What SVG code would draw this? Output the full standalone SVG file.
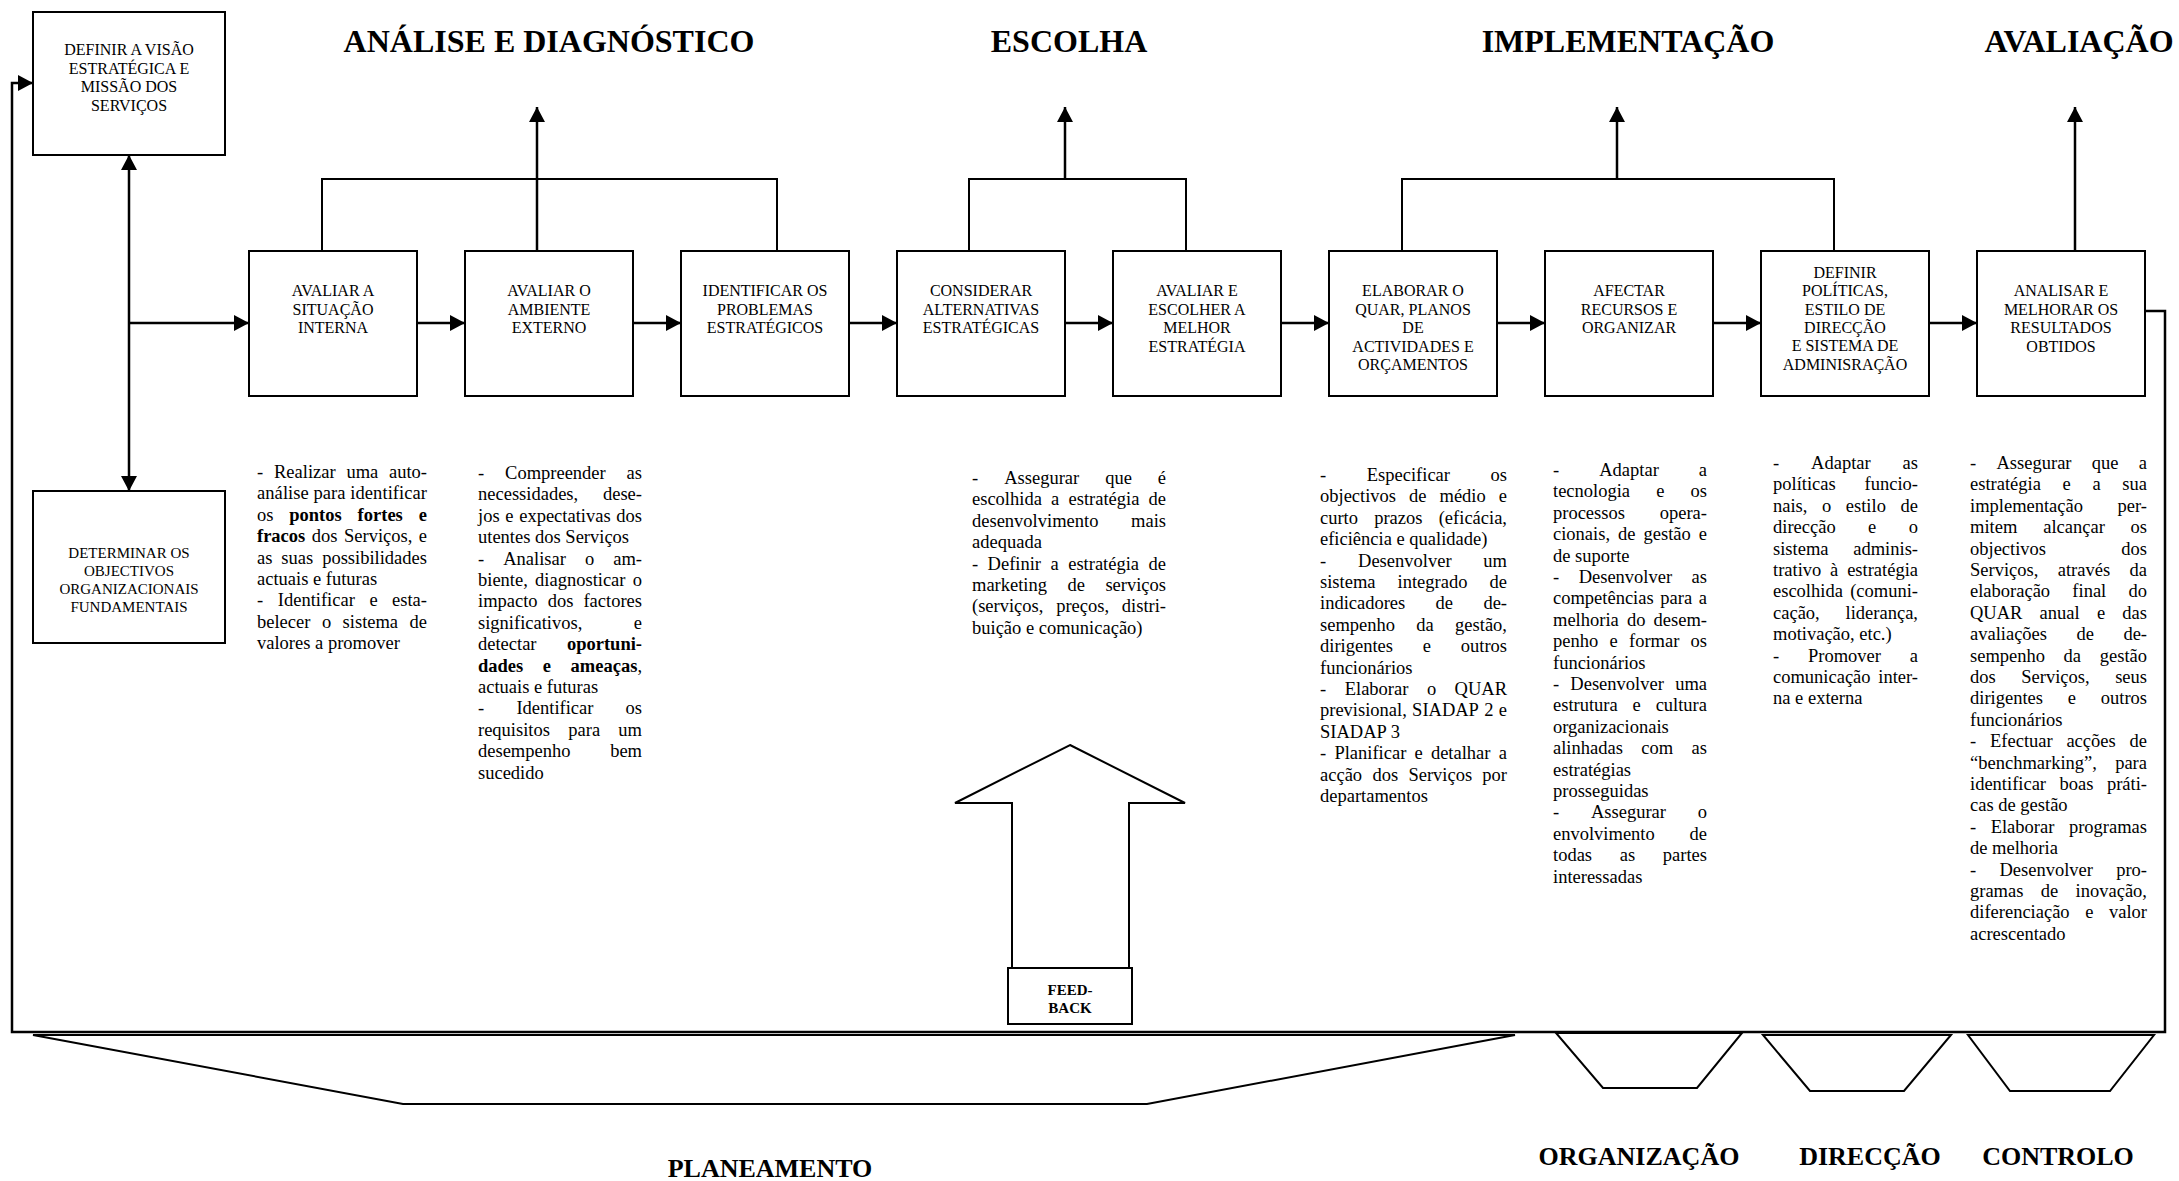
<svg xmlns="http://www.w3.org/2000/svg" width="2179" height="1181" viewBox="0 0 2179 1181">
<style>
.bg{fill:#fff}
.bx{fill:#fff;stroke:#000;stroke-width:2}
.ln{fill:none;stroke:#000;stroke-width:2}
.ar{fill:none;stroke:#000;stroke-width:2.5}
.sh{fill:#fff;stroke:#000;stroke-width:2;stroke-linejoin:miter}
.bt{font-family:"Liberation Serif","Times New Roman",serif;font-size:16px;text-anchor:middle;fill:#000}
.bs{font-size:15px}
.h{font-family:"Liberation Serif","Times New Roman",serif;font-size:32px;font-weight:bold;text-anchor:middle;fill:#000}
.f{font-family:"Liberation Serif","Times New Roman",serif;font-size:26px;font-weight:bold;text-anchor:middle;fill:#000}
.fb{font-family:"Liberation Serif","Times New Roman",serif;font-size:15px;font-weight:bold;text-anchor:middle;fill:#000}
.d{font-family:"Liberation Serif","Times New Roman",serif;font-size:18.5px;fill:#000}
.e{text-anchor:end}
.m{text-anchor:middle}
.b{font-weight:bold}
</style>
<defs>
<marker id="ah" markerUnits="userSpaceOnUse" markerWidth="16" markerHeight="17" refX="15" refY="8" orient="auto-start-reverse"><path d="M0,0 L15,8 L0,16 z" fill="#000"/></marker>
</defs>
<rect class="bg" x="0" y="0" width="2179" height="1181"/>

<g id="titles">
<text class="h" x="549" y="52">ANÁLISE E DIAGNÓSTICO</text>
<text class="h" x="1069" y="52">ESCOLHA</text>
<text class="h" x="1628" y="52">IMPLEMENTAÇÃO</text>
<text class="h" x="2079" y="52">AVALIAÇÃO</text>
</g>

<g id="connectors">
<path class="ar" d="M2146,311 H2165 V1032 H12 V83 H33" marker-end="url(#ah)"/>
<path class="ar" d="M129,491 V155" marker-start="url(#ah)" marker-end="url(#ah)"/>
<path class="ar" d="M129,323 H249" marker-end="url(#ah)"/>
<path class="ar" d="M417,323 H465" marker-end="url(#ah)"/>
<path class="ar" d="M633,323 H681" marker-end="url(#ah)"/>
<path class="ar" d="M849,323 H897" marker-end="url(#ah)"/>
<path class="ar" d="M1065,323 H1113" marker-end="url(#ah)"/>
<path class="ar" d="M1281,323 H1329" marker-end="url(#ah)"/>
<path class="ar" d="M1497,323 H1545" marker-end="url(#ah)"/>
<path class="ar" d="M1713,323 H1761" marker-end="url(#ah)"/>
<path class="ar" d="M1929,323 H1977" marker-end="url(#ah)"/>
<path class="ln" d="M322,251 V179 H777 V251"/>
<path class="ar" d="M537,251 V107" marker-end="url(#ah)"/>
<path class="ln" d="M969,251 V179 H1186 V251"/>
<path class="ar" d="M1065,179 V107" marker-end="url(#ah)"/>
<path class="ln" d="M1402,251 V179 H1834 V251"/>
<path class="ar" d="M1617,179 V107" marker-end="url(#ah)"/>
<path class="ar" d="M2075,251 V107" marker-end="url(#ah)"/>
</g>

<g id="n-visao">
<rect class="bx" x="33" y="12" width="192" height="143"/>
<text class="bt" x="129" y="55">DEFINIR A VISÃO</text>
<text class="bt" x="129" y="73.5">ESTRATÉGICA E</text>
<text class="bt" x="129" y="92">MISSÃO DOS</text>
<text class="bt" x="129" y="110.5">SERVIÇOS</text>
</g>
<g id="n-objectivos">
<rect class="bx" x="33" y="491" width="192" height="152"/>
<text class="bt bs" x="129" y="558">DETERMINAR OS</text>
<text class="bt bs" x="129" y="576">OBJECTIVOS</text>
<text class="bt bs" x="129" y="594">ORGANIZACIONAIS</text>
<text class="bt bs" x="129" y="612">FUNDAMENTAIS</text>
</g>
<g id="n1">
<rect class="bx" x="249" y="251" width="168" height="145"/>
<text class="bt" x="333" y="296">AVALIAR A</text>
<text class="bt" x="333" y="314.5">SITUAÇÃO</text>
<text class="bt" x="333" y="333">INTERNA</text>
</g>
<g id="n2">
<rect class="bx" x="465" y="251" width="168" height="145"/>
<text class="bt" x="549" y="296">AVALIAR O</text>
<text class="bt" x="549" y="314.5">AMBIENTE</text>
<text class="bt" x="549" y="333">EXTERNO</text>
</g>
<g id="n3">
<rect class="bx" x="681" y="251" width="168" height="145"/>
<text class="bt" x="765" y="296">IDENTIFICAR OS</text>
<text class="bt" x="765" y="314.5">PROBLEMAS</text>
<text class="bt" x="765" y="333">ESTRATÉGICOS</text>
</g>
<g id="n4">
<rect class="bx" x="897" y="251" width="168" height="145"/>
<text class="bt" x="981" y="296">CONSIDERAR</text>
<text class="bt" x="981" y="314.5">ALTERNATIVAS</text>
<text class="bt" x="981" y="333">ESTRATÉGICAS</text>
</g>
<g id="n5">
<rect class="bx" x="1113" y="251" width="168" height="145"/>
<text class="bt" x="1197" y="296">AVALIAR E</text>
<text class="bt" x="1197" y="314.5">ESCOLHER A</text>
<text class="bt" x="1197" y="333">MELHOR</text>
<text class="bt" x="1197" y="351.5">ESTRATÉGIA</text>
</g>
<g id="n6">
<rect class="bx" x="1329" y="251" width="168" height="145"/>
<text class="bt" x="1413" y="296">ELABORAR O</text>
<text class="bt" x="1413" y="314.5">QUAR, PLANOS</text>
<text class="bt" x="1413" y="333">DE</text>
<text class="bt" x="1413" y="351.5">ACTIVIDADES E</text>
<text class="bt" x="1413" y="370">ORÇAMENTOS</text>
</g>
<g id="n7">
<rect class="bx" x="1545" y="251" width="168" height="145"/>
<text class="bt" x="1629" y="296">AFECTAR</text>
<text class="bt" x="1629" y="314.5">RECURSOS E</text>
<text class="bt" x="1629" y="333">ORGANIZAR</text>
</g>
<g id="n8">
<rect class="bx" x="1761" y="251" width="168" height="145"/>
<text class="bt" x="1845" y="278">DEFINIR</text>
<text class="bt" x="1845" y="296.3">POLÍTICAS,</text>
<text class="bt" x="1845" y="314.6">ESTILO DE</text>
<text class="bt" x="1845" y="332.9">DIRECÇÃO</text>
<text class="bt" x="1845" y="351.2">E SISTEMA DE</text>
<text class="bt" x="1845" y="369.5">ADMINISRAÇÃO</text>
</g>
<g id="n9">
<rect class="bx" x="1977" y="251" width="168" height="145"/>
<text class="bt" x="2061" y="296">ANALISAR E</text>
<text class="bt" x="2061" y="314.5">MELHORAR OS</text>
<text class="bt" x="2061" y="333">RESULTADOS</text>
<text class="bt" x="2061" y="351.5">OBTIDOS</text>
</g>

<g id="desc1" class="d">
<text y="478"><tspan x="257">-</tspan><tspan x="274">Realizar</tspan><tspan x="346.4">uma</tspan></text><text class="e" x="427" y="478">auto-</text>
<text x="257" y="499.4" textLength="170" lengthAdjust="spacing">análise para identificar</text>
<text y="520.8"><tspan x="257">os</tspan><tspan class="b" x="289.3">pontos</tspan><tspan class="b" x="357.6">fortes</tspan></text><text class="e b" x="427" y="520.8">e</text>
<text y="542.2"><tspan class="b" x="257">fracos</tspan><tspan x="311.8">dos</tspan><tspan x="344">Serviços,</tspan></text><text class="e" x="427" y="542.2">e</text>
<text x="257" y="563.6">as</text><text class="m" x="297.3" y="563.6">suas</text><text class="e" x="427" y="563.6">possibilidades</text>
<text x="257" y="585">actuais e futuras</text>
<text y="606.4"><tspan x="257">-</tspan><tspan x="277.8">Identificar</tspan><tspan x="369.4">e</tspan></text><text class="e" x="427" y="606.4">esta-</text>
<text y="627.8"><tspan x="257">belecer</tspan><tspan x="321.9">o</tspan><tspan x="342.6">sistema</tspan></text><text class="e" x="427" y="627.8">de</text>
<text x="257" y="649.2">valores a promover</text>
</g>

<g id="desc2" class="d">
<text x="478" y="479">-</text><text class="m" x="555.4" y="479">Compreender</text><text class="e" x="642" y="479">as</text>
<text x="478" y="500.4">necessidades,</text><text class="e" x="642" y="500.4">dese-</text>
<text y="521.8"><tspan x="478">jos</tspan><tspan x="505.3">e</tspan><tspan x="519.2">expectativas</tspan></text><text class="e" x="642" y="521.8">dos</text>
<text x="478" y="543.2">utentes dos Serviços</text>
<text y="564.6"><tspan x="478">-</tspan><tspan x="503.2">Analisar</tspan><tspan x="584.9">o</tspan></text><text class="e" x="642" y="564.6">am-</text>
<text x="478" y="586">biente,</text><text class="m" x="580.3" y="586">diagnosticar</text><text class="e" x="642" y="586">o</text>
<text x="478" y="607.4">impacto</text><text class="m" x="560.5" y="607.4">dos</text><text class="e" x="642" y="607.4">factores</text>
<text x="478" y="628.8">significativos,</text><text class="e" x="642" y="628.8">e</text>
<text x="478" y="650.2">detectar</text><text class="e b" x="642" y="650.2">oportuni-</text>
<text class="b" x="478" y="671.6">dades</text><text class="m b" x="546.9" y="671.6">e</text><text class="e" x="642" y="671.6"><tspan class="b">ameaças</tspan>,</text>
<text x="478" y="693">actuais e futuras</text>
<text x="478" y="714.4">-</text><text class="m" x="554.9" y="714.4">Identificar</text><text class="e" x="642" y="714.4">os</text>
<text x="478" y="735.8">requisitos</text><text class="m" x="584.2" y="735.8">para</text><text class="e" x="642" y="735.8">um</text>
<text x="478" y="757.2">desempenho</text><text class="e" x="642" y="757.2">bem</text>
<text x="478" y="778.6">sucedido</text>
</g>

<g id="desc3" class="d">
<text y="484"><tspan x="972">-</tspan><tspan x="1004.2">Assegurar</tspan><tspan x="1105.2">que</tspan></text><text class="e" x="1166" y="484">é</text>
<text y="505.4"><tspan x="972">escolhida</tspan><tspan x="1051.1">a</tspan><tspan x="1068.5">estratégia</tspan></text><text class="e" x="1166" y="505.4">de</text>
<text x="972" y="526.8">desenvolvimento</text><text class="e" x="1166" y="526.8">mais</text>
<text x="972" y="548.2">adequada</text>
<text y="569.6"><tspan x="972">-</tspan><tspan x="987.6">Definir</tspan><tspan x="1050.5">a</tspan><tspan x="1068.2">estratégia</tspan></text><text class="e" x="1166" y="569.6">de</text>
<text x="972" y="591">marketing</text><text class="m" x="1076.2" y="591">de</text><text class="e" x="1166" y="591">serviços</text>
<text x="972" y="612.4">(serviços,</text><text class="m" x="1082.6" y="612.4">preços,</text><text class="e" x="1166" y="612.4">distri-</text>
<text x="972" y="633.8">buição e comunicação)</text>
</g>

<g id="desc4" class="d">
<text x="1320" y="481">-</text><text class="m" x="1408.4" y="481">Especificar</text><text class="e" x="1507" y="481">os</text>
<text y="502.4"><tspan x="1320">objectivos</tspan><tspan x="1409">de</tspan><tspan x="1439.5">médio</tspan></text><text class="e" x="1507" y="502.4">e</text>
<text x="1320" y="523.8">curto</text><text class="m" x="1398.3" y="523.8">prazos</text><text class="e" x="1507" y="523.8">(eficácia,</text>
<text x="1320" y="545.2">eficiência e qualidade)</text>
<text x="1320" y="566.6">-</text><text class="m" x="1404.8" y="566.6">Desenvolver</text><text class="e" x="1507" y="566.6">um</text>
<text x="1320" y="588">sistema</text><text class="m" x="1432.5" y="588">integrado</text><text class="e" x="1507" y="588">de</text>
<text x="1320" y="609.4">indicadores</text><text class="m" x="1444.3" y="609.4">de</text><text class="e" x="1507" y="609.4">de-</text>
<text x="1320" y="630.8">sempenho</text><text class="m" x="1425" y="630.8">da</text><text class="e" x="1507" y="630.8">gestão,</text>
<text x="1320" y="652.2">dirigentes</text><text class="m" x="1426.9" y="652.2">e</text><text class="e" x="1507" y="652.2">outros</text>
<text x="1320" y="673.6">funcionários</text>
<text y="695"><tspan x="1320">-</tspan><tspan x="1344.7">Elaborar</tspan><tspan x="1426.9">o</tspan></text><text class="e" x="1507" y="695">QUAR</text>
<text y="716.4"><tspan x="1320">previsional,</tspan><tspan x="1412.1">SIADAP</tspan><tspan x="1484.2">2</tspan></text><text class="e" x="1507" y="716.4">e</text>
<text x="1320" y="737.8">SIADAP 3</text>
<text y="759.2"><tspan x="1320">-</tspan><tspan x="1334.4">Planificar</tspan><tspan x="1414.5">e</tspan><tspan x="1430.9">detalhar</tspan></text><text class="e" x="1507" y="759.2">a</text>
<text y="780.6"><tspan x="1320">acção</tspan><tspan x="1372.4">dos</tspan><tspan x="1408.4">Serviços</tspan></text><text class="e" x="1507" y="780.6">por</text>
<text x="1320" y="802">departamentos</text>
</g>

<g id="desc5" class="d">
<text x="1553" y="476">-</text><text class="m" x="1629" y="476">Adaptar</text><text class="e" x="1707" y="476">a</text>
<text x="1553" y="497.4">tecnologia</text><text class="m" x="1660.3" y="497.4">e</text><text class="e" x="1707" y="497.4">os</text>
<text x="1553" y="518.8">processos</text><text class="e" x="1707" y="518.8">opera-</text>
<text y="540.2"><tspan x="1553">cionais,</tspan><tspan x="1618">de</tspan><tspan x="1643.5">gestão</tspan></text><text class="e" x="1707" y="540.2">e</text>
<text x="1553" y="561.6">de suporte</text>
<text x="1553" y="583">-</text><text class="m" x="1625.4" y="583">Desenvolver</text><text class="e" x="1707" y="583">as</text>
<text x="1553" y="604.4">competências</text><text class="m" x="1676.2" y="604.4">para</text><text class="e" x="1707" y="604.4">a</text>
<text x="1553" y="625.8">melhoria</text><text class="m" x="1636.2" y="625.8">do</text><text class="e" x="1707" y="625.8">desem-</text>
<text y="647.2"><tspan x="1553">penho</tspan><tspan x="1609.5">e</tspan><tspan x="1629">formar</tspan></text><text class="e" x="1707" y="647.2">os</text>
<text x="1553" y="668.6">funcionários</text>
<text x="1553" y="690">-</text><text class="m" x="1617.1" y="690">Desenvolver</text><text class="e" x="1707" y="690">uma</text>
<text x="1553" y="711.4">estrutura</text><text class="m" x="1636.6" y="711.4">e</text><text class="e" x="1707" y="711.4">cultura</text>
<text x="1553" y="732.8">organizacionais</text>
<text x="1553" y="754.2">alinhadas</text><text class="m" x="1657.2" y="754.2">com</text><text class="e" x="1707" y="754.2">as</text>
<text x="1553" y="775.6">estratégias</text>
<text x="1553" y="797">prosseguidas</text>
<text x="1553" y="818.4">-</text><text class="m" x="1628.5" y="818.4">Assegurar</text><text class="e" x="1707" y="818.4">o</text>
<text x="1553" y="839.8">envolvimento</text><text class="e" x="1707" y="839.8">de</text>
<text x="1553" y="861.2">todas</text><text class="m" x="1627.4" y="861.2">as</text><text class="e" x="1707" y="861.2">partes</text>
<text x="1553" y="882.6">interessadas</text>
</g>

<g id="desc6" class="d">
<text x="1773" y="469">-</text><text class="m" x="1840.9" y="469">Adaptar</text><text class="e" x="1918" y="469">as</text>
<text x="1773" y="490.4">políticas</text><text class="e" x="1918" y="490.4">funcio-</text>
<text y="511.8"><tspan x="1773">nais,</tspan><tspan x="1822">o</tspan><tspan x="1845.8">estilo</tspan></text><text class="e" x="1918" y="511.8">de</text>
<text x="1773" y="533.2">direcção</text><text class="m" x="1872.2" y="533.2">e</text><text class="e" x="1918" y="533.2">o</text>
<text x="1773" y="554.6">sistema</text><text class="e" x="1918" y="554.6">adminis-</text>
<text x="1773" y="576">trativo</text><text class="m" x="1834.2" y="576">à</text><text class="e" x="1918" y="576">estratégia</text>
<text x="1773" y="597.4">escolhida</text><text class="e" x="1918" y="597.4">(comuni-</text>
<text x="1773" y="618.8">cação,</text><text class="e" x="1918" y="618.8">liderança,</text>
<text x="1773" y="640.2">motivação, etc.)</text>
<text x="1773" y="661.6">-</text><text class="m" x="1844.5" y="661.6">Promover</text><text class="e" x="1918" y="661.6">a</text>
<text x="1773" y="683">comunicação</text><text class="e" x="1918" y="683">inter-</text>
<text x="1773" y="704.4">na e externa</text>
</g>

<g id="desc7" class="d">
<text y="469"><tspan x="1970">-</tspan><tspan x="1996.5">Assegurar</tspan><tspan x="2091.8">que</tspan></text><text class="e" x="2147" y="469">a</text>
<text y="490.4"><tspan x="1970">estratégia</tspan><tspan x="2062.6">e</tspan><tspan x="2092.4">a</tspan></text><text class="e" x="2147" y="490.4">sua</text>
<text x="1970" y="511.8">implementação</text><text class="e" x="2147" y="511.8">per-</text>
<text x="1970" y="533.2">mitem</text><text class="m" x="2074" y="533.2">alcançar</text><text class="e" x="2147" y="533.2">os</text>
<text x="1970" y="554.6">objectivos</text><text class="e" x="2147" y="554.6">dos</text>
<text x="1970" y="576">Serviços,</text><text class="m" x="2083.9" y="576">através</text><text class="e" x="2147" y="576">da</text>
<text x="1970" y="597.4">elaboração</text><text class="m" x="2089.3" y="597.4">final</text><text class="e" x="2147" y="597.4">do</text>
<text y="618.8"><tspan x="1970">QUAR</tspan><tspan x="2039.6">anual</tspan><tspan x="2096.9">e</tspan></text><text class="e" x="2147" y="618.8">das</text>
<text x="1970" y="640.2">avaliações</text><text class="m" x="2085.2" y="640.2">de</text><text class="e" x="2147" y="640.2">de-</text>
<text x="1970" y="661.6">sempenho</text><text class="m" x="2072.3" y="661.6">da</text><text class="e" x="2147" y="661.6">gestão</text>
<text x="1970" y="683">dos</text><text class="m" x="2055.4" y="683">Serviços,</text><text class="e" x="2147" y="683">seus</text>
<text x="1970" y="704.4">dirigentes</text><text class="m" x="2071.9" y="704.4">e</text><text class="e" x="2147" y="704.4">outros</text>
<text x="1970" y="725.8">funcionários</text>
<text y="747.2"><tspan x="1970">-</tspan><tspan x="1990">Efectuar</tspan><tspan x="2066.4">acções</tspan></text><text class="e" x="2147" y="747.2">de</text>
<text x="1970" y="768.6">“benchmarking”,</text><text class="e" x="2147" y="768.6">para</text>
<text x="1970" y="790">identificar</text><text class="m" x="2076.4" y="790">boas</text><text class="e" x="2147" y="790">práti-</text>
<text x="1970" y="811.4">cas de gestão</text>
<text x="1970" y="832.8">-</text><text class="m" x="2022.5" y="832.8">Elaborar</text><text class="e" x="2147" y="832.8">programas</text>
<text x="1970" y="854.2">de melhoria</text>
<text x="1970" y="875.6">-</text><text class="m" x="2046.2" y="875.6">Desenvolver</text><text class="e" x="2147" y="875.6">pro-</text>
<text x="1970" y="897">gramas</text><text class="m" x="2049.5" y="897">de</text><text class="e" x="2147" y="897">inovação,</text>
<text x="1970" y="918.4">diferenciação</text><text class="m" x="2089.3" y="918.4">e</text><text class="e" x="2147" y="918.4">valor</text>
<text x="1970" y="939.8">acrescentado</text>
</g>

<g id="feedback">
<polygon class="sh" points="1070,745 1185,803 1129,803 1129,968 1012,968 1012,803 955,803"/>
<rect class="bx" x="1008" y="968" width="124" height="56"/>
<text class="fb" x="1070" y="995">FEED-</text>
<text class="fb" x="1070" y="1013">BACK</text>
</g>

<g id="planeamento">
<polygon class="ln" points="33,1035 1515,1035 1147,1104 403,1104"/>
<text class="f" x="770" y="1177">PLANEAMENTO</text>
</g>
<g id="organizacao">
<polygon class="ln" points="1556,1033 1742,1033 1697,1088 1603,1088"/>
<text class="f" x="1639" y="1165">ORGANIZAÇÃO</text>
</g>
<g id="direccao">
<polygon class="ln" points="1763,1035 1951,1035 1904,1091 1810,1091"/>
<text class="f" x="1870" y="1165">DIRECÇÃO</text>
</g>
<g id="controlo">
<polygon class="ln" points="1968,1035 2154,1035 2110,1091 2010,1091"/>
<text class="f" x="2058" y="1165">CONTROLO</text>
</g>
</svg>
